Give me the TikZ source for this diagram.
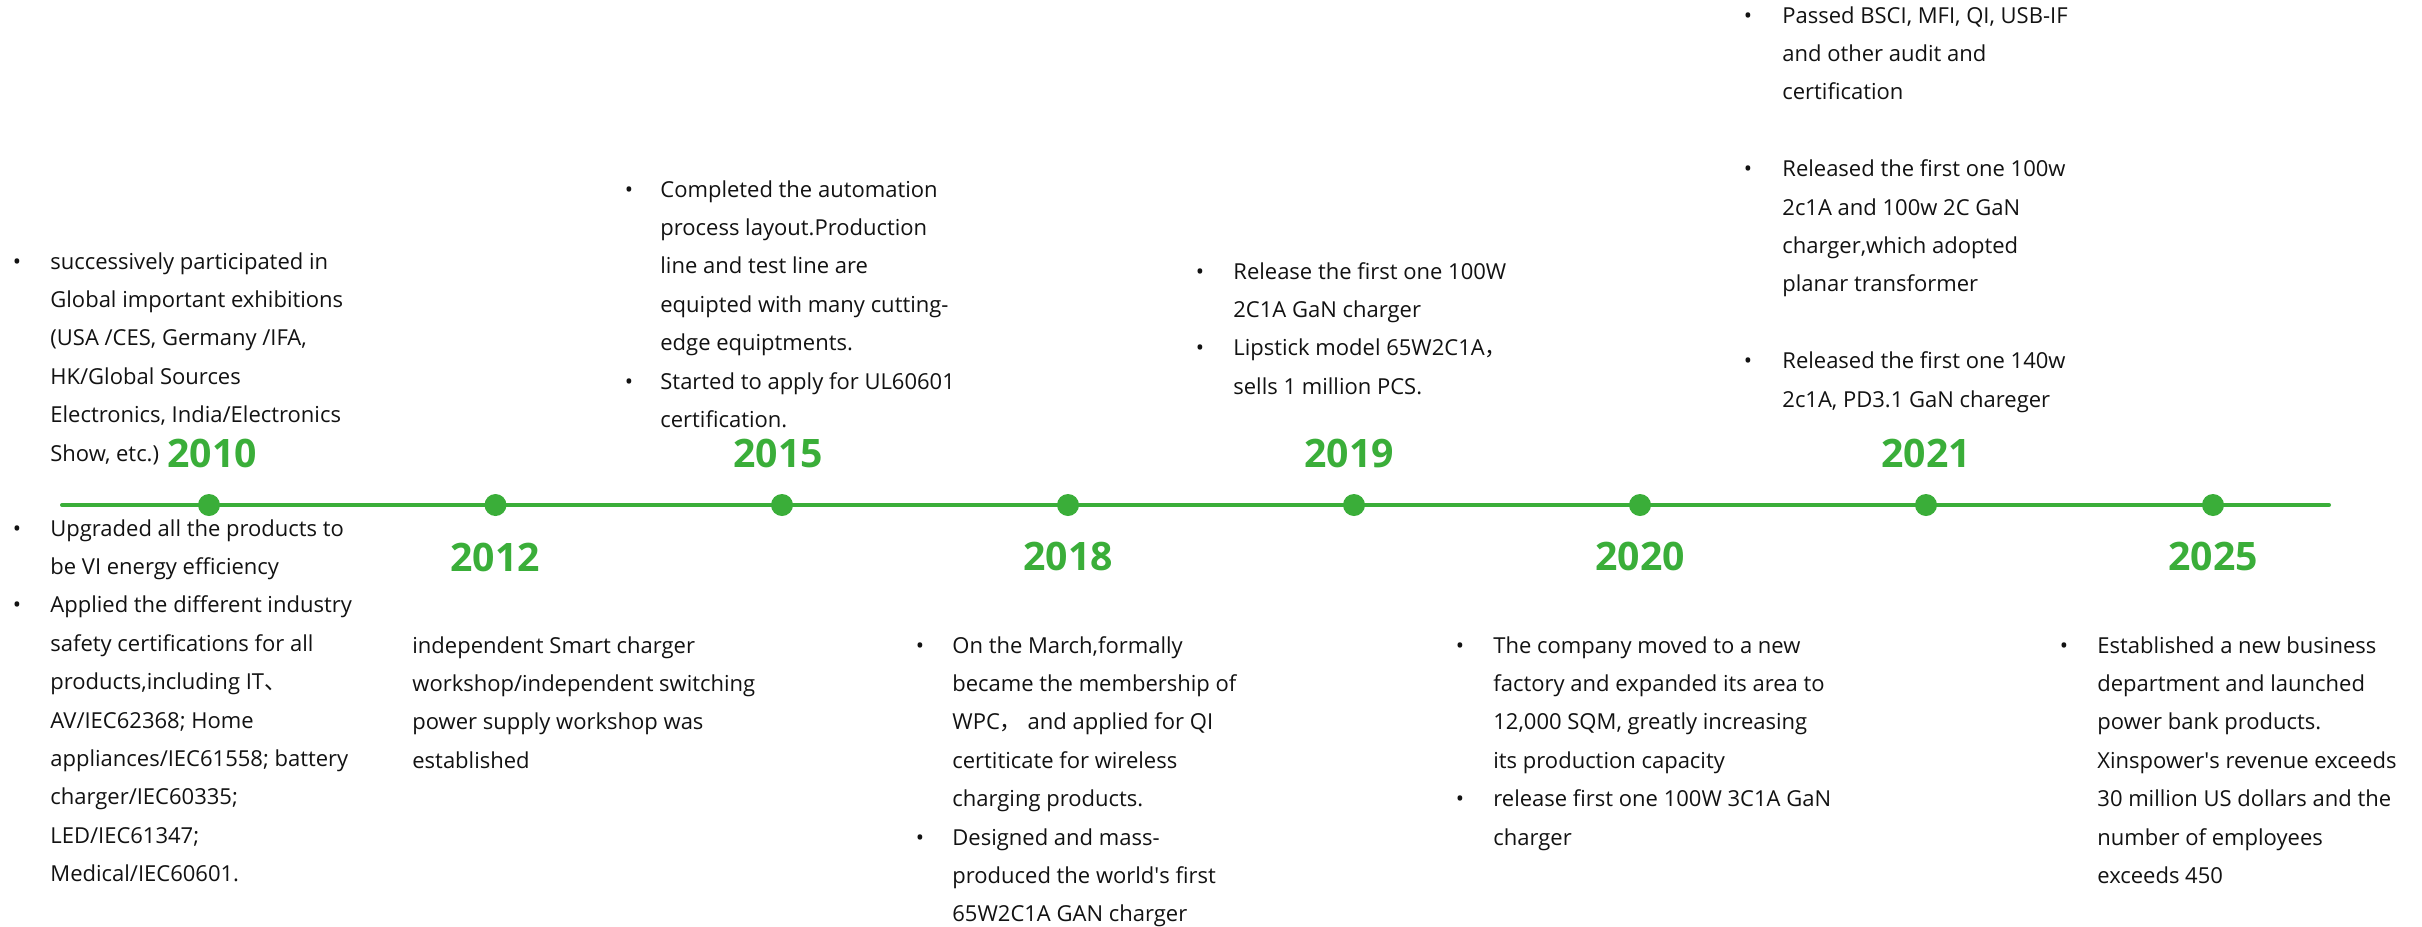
\documentclass[tikz,border=0pt]{standalone}
\usepackage{fontspec}
\setmainfont{Open Sans}
\newfontfamily\cjk{Noto Sans CJK SC}
\definecolor{tlgreen}{RGB}{58,174,57}
\definecolor{tltext}{RGB}{18,18,18}
\tikzset{
  txt/.style={anchor=base west, inner sep=0pt, font=\fontsize{11}{13}\selectfont, text=tltext},
  bul/.style={anchor=base, inner sep=0pt, font=\fontsize{11}{13}\selectfont, text=tltext},
  yearlbl/.style={inner sep=0pt, font=\fontsize{19.6}{22}\selectfont\bfseries, text=tlgreen},
  tldot/.style={circle, fill=tlgreen, minimum size=11pt, inner sep=0pt},
  axisline/.style={draw=tlgreen, line width=2pt, line cap=round}
}
\newcommand\tllines[4]{\foreach \t [count=\i from 0] in {#4} {\node[txt] (#1-\i) at (#2, {#3+\i*38.4}) {\t};}}
\begin{document}
\begin{tikzpicture}[x=0.5pt, y=-0.5pt]
\fill[white] (0,0) rectangle (2422,927);
\useasboundingbox (0,0) rectangle (2422,927);

% axis
\coordinate (L) at (62,505);
\coordinate (R) at (2329,505);
\draw[axisline] (L) -- (R);
\foreach \yr/\px in {2010/209, 2012/495.5, 2015/782, 2018/1068, 2019/1354, 2020/1640, 2021/1926, 2025/2213}
  {\node[tldot] (d\yr) at (\px,505) {};}

% years
\node[yearlbl] (y2010) at (212,453) {2010};
\node[yearlbl] (y2015) at (778,453) {2015};
\node[yearlbl] (y2019) at (1349,453) {2019};
\node[yearlbl] (y2021) at (1926,453) {2021};
\node[yearlbl] (y2012) at (495,557) {2012};
\node[yearlbl] (y2018) at (1068,556) {2018};
\node[yearlbl] (y2020) at (1640,556) {2020};
\node[yearlbl] (y2025) at (2213,556) {2025};

% 2010 top
\node[bul] (b10a) at (17,269) {•};
\tllines{t10}{50}{269}{successively participated in, Global important exhibitions, {(USA /CES, Germany /IFA,}, HK/Global Sources, {Electronics, India/Electronics}, {Show, etc.)}}

% 2010 bottom
\node[bul] (b10b) at (17,536) {•};
\node[bul] (b10c) at (17,612.8) {•};
\tllines{u10}{50}{536}{Upgraded all the products to, be VI energy efficiency, Applied the different industry, safety certifications for all, {products,including IT{\cjk 、}}, AV/IEC62368; Home, appliances/IEC61558; battery, charger/IEC60335;, LED/IEC61347;, Medical/IEC60601.}

% 2015
\node[bul] (b15a) at (629,197) {•};
\node[bul] (b15b) at (629,389) {•};
\tllines{t15}{660}{197}{Completed the automation, process layout.Production, line and test line are, equipted with many cutting-, edge equiptments., Started to apply for UL60601, certification.}

% 2019
\node[bul] (b19a) at (1200,279) {•};
\node[bul] (b19b) at (1200,355.8) {•};
\tllines{t19}{1233}{279}{Release the first one 100W, 2C1A GaN charger, {Lipstick model 65W2C1A{\cjk ，}}, sells 1 million PCS.}

% 2021
\node[bul] (b21a) at (1748,23) {•};
\node[bul] (b21b) at (1748,176.6) {•};
\node[bul] (b21c) at (1748,368.6) {•};
\tllines{t21a}{1782}{23}{{Passed BSCI, MFI, QI, USB-IF}, and other audit and, certification}
\tllines{t21b}{1782}{176.6}{Released the first one 100w, 2c1A and 100w 2C GaN, {charger,which adopted}, planar transformer}
\tllines{t21c}{1782}{368.6}{Released the first one 140w, {2c1A, PD3.1 GaN chareger}}

% 2012
\tllines{t12}{412}{653}{independent Smart charger, workshop/independent switching, power supply workshop was, established}

% 2018
\node[bul] (b18a) at (920,653) {•};
\node[bul] (b18b) at (920,845) {•};
\tllines{t18}{952}{653}{{On the March,formally}, became the membership of, {WPC{\cjk ，} and applied for QI}, certiticate for wireless, charging products., Designed and mass-, produced the world\textquotesingle s first, 65W2C1A GAN charger}

% 2020
\node[bul] (b20a) at (1460,653) {•};
\node[bul] (b20b) at (1460,806.6) {•};
\tllines{t20}{1493}{653}{The company moved to a new, factory and expanded its area to, {12,000 SQM, greatly increasing}, its production capacity, release first one 100W 3C1A GaN, charger}

% 2025
\node[bul] (b25a) at (2064,653) {•};
\tllines{t25}{2097}{653}{Established a new business, department and launched, power bank products., Xinspower\textquotesingle s revenue exceeds, 30 million US dollars and the, number of employees, exceeds 450}
\end{tikzpicture}
\end{document}
